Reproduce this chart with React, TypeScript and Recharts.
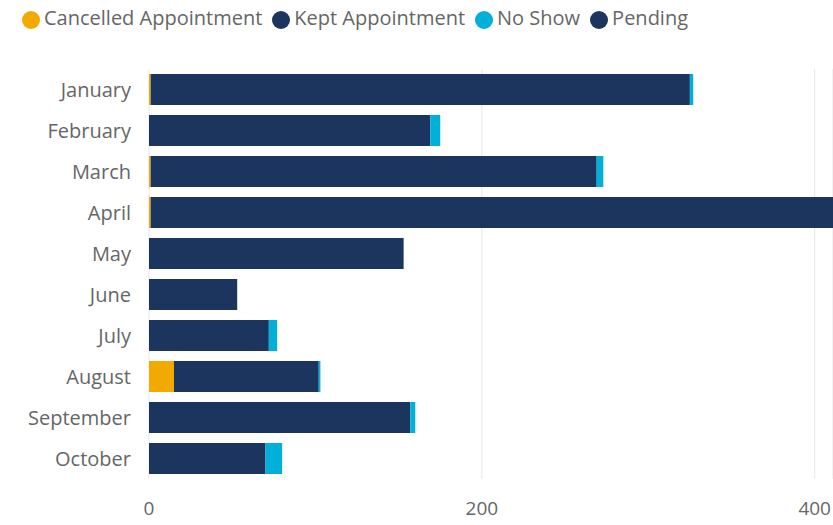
import { Bar, BarChart, CartesianGrid, Legend, XAxis, YAxis } from "recharts"

const months = ["January", "February", "March", "April", "May", "June", "July", "August", "September", "October"]
const cancelled = [1, 0, 1, 1, 0, 0, 0, 15, 0, 0]
const kept = [324, 169, 268, 430, 153, 53, 72, 87, 157, 70]
const noShow = [2, 6, 4, 0, 0, 0, 5, 1, 3, 10]
const pending = [0, 0, 0, 0, 0, 0, 0, 0, 0, 0]
const xTicks = [0, 200, 400]

const data = months.map((m, i) => ({
  month: m,
  cancelled: cancelled[i],
  kept: kept[i],
  noShow: noShow[i],
  pending: pending[i],
}))

const font = "'Open Sans', 'Noto Sans', sans-serif"
const grey = "#666666"

export default function App() {
  return (
    <div style={{ position: "absolute", left: 8, top: 0, width: 825, height: 525, fontFamily: font }}>
      <BarChart
        width={825}
        height={525}
        data={data}
        layout="vertical"
        margin={{ top: 43, right: 0, bottom: 8, left: 0 }}
        barSize={31}
      >
        <CartesianGrid horizontal={false} stroke="#e6e6e6" />
        <XAxis
          type="number"
          domain={[0, 411]}
          ticks={xTicks}
          allowDataOverflow
          axisLine={false}
          tickLine={false}
          tickMargin={17}
          height={38}
          tick={{ fill: grey, fontSize: 19, fontFamily: font }}
        />
        <YAxis
          type="category"
          dataKey="month"
          width={141}
          axisLine={false}
          tickLine={false}
          tickMargin={12}
          tick={{ fill: grey, fontSize: 20, fontFamily: font }}
        />
        <Legend
          verticalAlign="top"
          align="left"
          iconType="circle"
          iconSize={18}
          wrapperStyle={{ top: 5, left: 14, width: 780, fontSize: 20, lineHeight: "26px", color: grey }}
          formatter={(v) => <span style={{ color: grey }}>{v}</span>}
        />
        <Bar dataKey="cancelled" name="Cancelled Appointment" stackId="a" fill="#F2A900" isAnimationActive={false} />
        <Bar dataKey="kept" name="Kept Appointment" stackId="a" fill="#1C355E" isAnimationActive={false} />
        <Bar dataKey="noShow" name="No Show" stackId="a" fill="#00B0D8" isAnimationActive={false} />
        <Bar dataKey="pending" name="Pending" stackId="a" fill="#1C355E" isAnimationActive={false} />
      </BarChart>
    </div>
  )
}
